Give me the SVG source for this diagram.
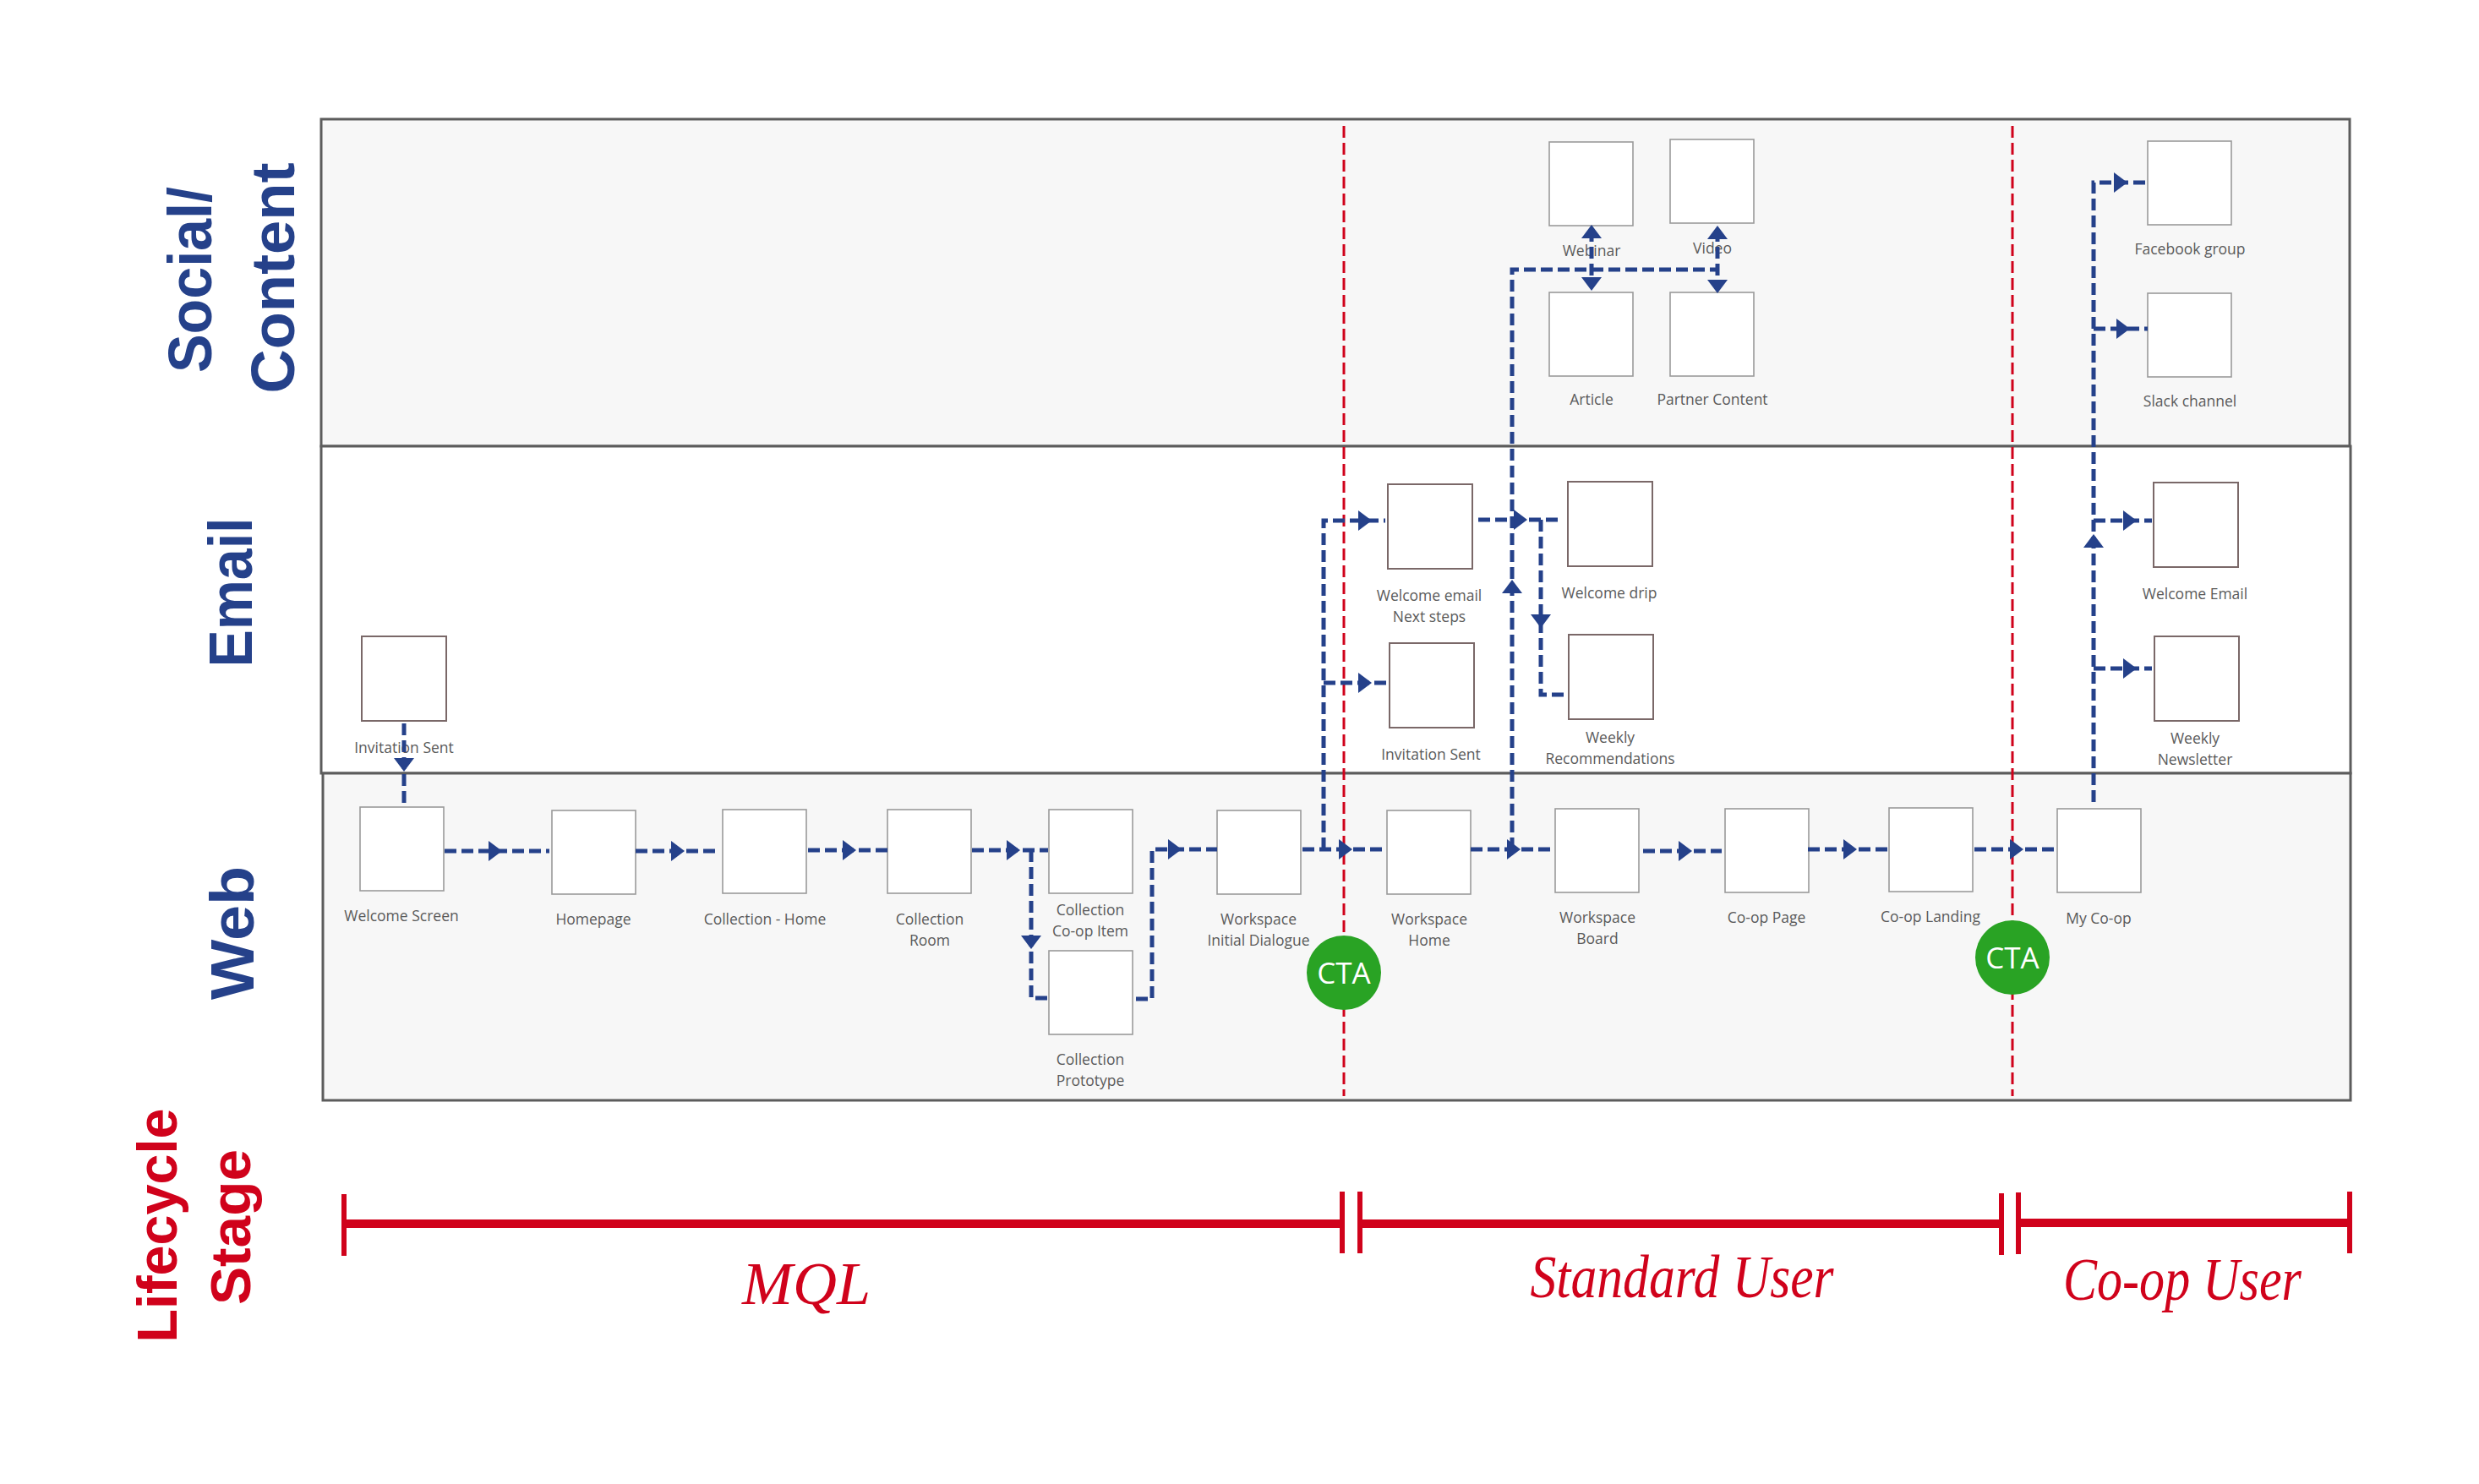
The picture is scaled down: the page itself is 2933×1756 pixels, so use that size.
<svg xmlns="http://www.w3.org/2000/svg" xmlns:xlink="http://www.w3.org/1999/xlink" width="2933" height="1756" viewBox="0 0 2933 1756">
<style>
.lane{stroke:#5c5c5c;stroke-width:3}
.lane-g{fill:#f7f7f7}
.lane-w{fill:#ffffff}
.box{fill:#ffffff;stroke:#9a9a9a;stroke-width:1.6}
.ebox{fill:#ffffff;stroke:#7a6868;stroke-width:2}
.lbl{font-family:"Open Sans","Liberation Sans",sans-serif;font-size:17.5px;fill:#5a5a5a;text-anchor:middle}
.lane-t{font-family:"Liberation Sans",Arial,sans-serif;font-weight:bold;font-size:72px;fill:#25418a;text-anchor:middle}
.life-t{font-family:"Liberation Sans",Arial,sans-serif;font-weight:bold;font-size:66px;fill:#d0021b;text-anchor:middle}
.stage{font-family:"Liberation Serif","Times New Roman",serif;font-style:italic;font-size:72px;fill:#d0021b;text-anchor:middle}
.red{stroke:#d0021b;stroke-width:3;stroke-dasharray:14 6;fill:none}
.conn{stroke:#25418a;stroke-width:5;stroke-dasharray:14 6;fill:none}
.bar{stroke:#d0021b;stroke-width:10;fill:none}
.tick{stroke:#d0021b;stroke-width:6;fill:none}
.cta{fill:#29a324}
.cta-t{font-family:"Open Sans","Liberation Sans",sans-serif;font-size:35px;fill:#ffffff;text-anchor:middle}
</style>
<defs>
<path id="ah" d="M0,0 L-16,-12 L-16,12 Z" fill="#25418a"/>
</defs>
<rect width="2933" height="1756" fill="#ffffff"/>

<g id="lanes">
<rect class="lane lane-g" x="380" y="141" width="2400" height="387"/>
<rect class="lane lane-w" x="380" y="528" width="2401" height="387"/>
<rect class="lane lane-g" x="382" y="915" width="2399" height="387"/>
</g>

<g id="lane-labels">
<text class="lane-t" transform="translate(250,331) rotate(-90)" textLength="220" lengthAdjust="spacingAndGlyphs">Social/</text>
<text class="lane-t" transform="translate(348,329) rotate(-90)" textLength="273" lengthAdjust="spacingAndGlyphs">Content</text>
<text class="lane-t" transform="translate(298,701) rotate(-90)" textLength="177" lengthAdjust="spacingAndGlyphs">Email</text>
<text class="lane-t" transform="translate(300,1104) rotate(-90)" textLength="158" lengthAdjust="spacingAndGlyphs">Web</text>
<text class="life-t" transform="translate(209,1450) rotate(-90)" textLength="277" lengthAdjust="spacingAndGlyphs">Lifecycle</text>
<text class="life-t" transform="translate(296,1452) rotate(-90)" textLength="184" lengthAdjust="spacingAndGlyphs">Stage</text>
</g>

<g id="stage-dividers">
<line class="red" x1="1590" y1="149" x2="1590" y2="1297"/>
<line class="red" x1="2381" y1="149" x2="2381" y2="1297"/>
</g>

<g id="n-webinar"><rect class="box" x="1833" y="168" width="99" height="99"/><text class="lbl" x="1883" y="303">Webinar</text></g>
<g id="n-video"><rect class="box" x="1976" y="165" width="99" height="99"/><text class="lbl" x="2026" y="300">Video</text></g>
<g id="n-article"><rect class="box" x="1833" y="346" width="99" height="99"/><text class="lbl" x="1883" y="479">Article</text></g>
<g id="n-partner"><rect class="box" x="1976" y="346" width="99" height="99"/><text class="lbl" x="2026" y="479">Partner Content</text></g>
<g id="n-facebook"><rect class="box" x="2541" y="167" width="99" height="99"/><text class="lbl" x="2591" y="301">Facebook group</text></g>
<g id="n-slack"><rect class="box" x="2541" y="347" width="99" height="99"/><text class="lbl" x="2591" y="481">Slack channel</text></g>

<g id="n-invite1"><rect class="ebox" x="428" y="753" width="100" height="100"/><text class="lbl" x="478" y="891">Invitation Sent</text></g>
<g id="n-welcome-email"><rect class="ebox" x="1642" y="573" width="100" height="100"/><text class="lbl" x="1691" y="711">Welcome email</text><text class="lbl" x="1691" y="736">Next steps</text></g>
<g id="n-invite2"><rect class="ebox" x="1644" y="761" width="100" height="100"/><text class="lbl" x="1693" y="899">Invitation Sent</text></g>
<g id="n-welcome-drip"><rect class="ebox" x="1855" y="570" width="100" height="100"/><text class="lbl" x="1904" y="708">Welcome drip</text></g>
<g id="n-weekly-rec"><rect class="ebox" x="1856" y="751" width="100" height="100"/><text class="lbl" x="1905" y="879">Weekly</text><text class="lbl" x="1905" y="904">Recommendations</text></g>
<g id="n-coop-welcome"><rect class="ebox" x="2548" y="571" width="100" height="100"/><text class="lbl" x="2597" y="709">Welcome Email</text></g>
<g id="n-weekly-news"><rect class="ebox" x="2549" y="753" width="100" height="100"/><text class="lbl" x="2597" y="880">Weekly</text><text class="lbl" x="2597" y="905">Newsletter</text></g>

<g id="n-welcome-screen"><rect class="box" x="426" y="955" width="99" height="99"/><text class="lbl" x="475" y="1090">Welcome Screen</text></g>
<g id="n-homepage"><rect class="box" x="653" y="959" width="99" height="99"/><text class="lbl" x="702" y="1094">Homepage</text></g>
<g id="n-coll-home"><rect class="box" x="855" y="958" width="99" height="99"/><text class="lbl" x="905" y="1094">Collection - Home</text></g>
<g id="n-coll-room"><rect class="box" x="1050" y="958" width="99" height="99"/><text class="lbl" x="1100" y="1094">Collection</text><text class="lbl" x="1100" y="1119">Room</text></g>
<g id="n-coop-item"><rect class="box" x="1241" y="958" width="99" height="99"/><text class="lbl" x="1290" y="1083">Collection</text><text class="lbl" x="1290" y="1108">Co-op Item</text></g>
<g id="n-prototype"><rect class="box" x="1241" y="1125" width="99" height="99"/><text class="lbl" x="1290" y="1260">Collection</text><text class="lbl" x="1290" y="1285">Prototype</text></g>
<g id="n-ws-initial"><rect class="box" x="1440" y="959" width="99" height="99"/><text class="lbl" x="1489" y="1094">Workspace</text><text class="lbl" x="1489" y="1119">Initial Dialogue</text></g>
<g id="n-ws-home"><rect class="box" x="1641" y="959" width="99" height="99"/><text class="lbl" x="1691" y="1094">Workspace</text><text class="lbl" x="1691" y="1119">Home</text></g>
<g id="n-ws-board"><rect class="box" x="1840" y="957" width="99" height="99"/><text class="lbl" x="1890" y="1092">Workspace</text><text class="lbl" x="1890" y="1117">Board</text></g>
<g id="n-coop-page"><rect class="box" x="2041" y="957" width="99" height="99"/><text class="lbl" x="2090" y="1092">Co-op Page</text></g>
<g id="n-coop-landing"><rect class="box" x="2235" y="956" width="99" height="99"/><text class="lbl" x="2284" y="1091">Co-op Landing</text></g>
<g id="n-my-coop"><rect class="box" x="2434" y="957" width="99" height="99"/><text class="lbl" x="2483" y="1093">My Co-op</text></g>

<g id="connectors">
<path class="conn" d="M478,856 V950"/>
<use xlink:href="#ah" transform="translate(478,913) rotate(90)"/>
<path class="conn" d="M526,1007 H650"/>
<use xlink:href="#ah" transform="translate(594,1007)"/>
<path class="conn" d="M752,1007 H847"/>
<use xlink:href="#ah" transform="translate(810,1007)"/>
<path class="conn" d="M956,1006 H1050"/>
<use xlink:href="#ah" transform="translate(1013,1006)"/>
<path class="conn" d="M1150,1006 H1240 M1220,1006 V1181 H1240"/>
<use xlink:href="#ah" transform="translate(1207,1006)"/>
<use xlink:href="#ah" transform="translate(1220,1123) rotate(90)"/>
<path class="conn" d="M1344,1182 H1363 V1005 H1440"/>
<use xlink:href="#ah" transform="translate(1398,1005)"/>
<path class="conn" d="M1541,1005 H1639 M1566,1005 V616 H1639 M1566,808 H1640"/>
<use xlink:href="#ah" transform="translate(1600,1005)"/>
<use xlink:href="#ah" transform="translate(1623,616)"/>
<use xlink:href="#ah" transform="translate(1623,808)"/>
<path class="conn" d="M1749,615 H1843 M1823,615 V822 H1855"/>
<use xlink:href="#ah" transform="translate(1807,615)"/>
<use xlink:href="#ah" transform="translate(1823,743) rotate(90)"/>
<path class="conn" d="M1740,1005 H1836 M1789,1005 V319 H2032 M1883,272 V340 M2032,272 V342"/>
<use xlink:href="#ah" transform="translate(1799,1005)"/>
<use xlink:href="#ah" transform="translate(1789,686) rotate(-90)"/>
<use xlink:href="#ah" transform="translate(1883,266) rotate(-90)"/>
<use xlink:href="#ah" transform="translate(1883,344) rotate(90)"/>
<use xlink:href="#ah" transform="translate(2032,267) rotate(-90)"/>
<use xlink:href="#ah" transform="translate(2032,347) rotate(90)"/>
<path class="conn" d="M1944,1007 H2037"/>
<use xlink:href="#ah" transform="translate(2002,1007)"/>
<path class="conn" d="M2139,1005 H2234"/>
<use xlink:href="#ah" transform="translate(2197,1005)"/>
<path class="conn" d="M2336,1005 H2430"/>
<use xlink:href="#ah" transform="translate(2394,1005)"/>
<path class="conn" d="M2477,949 V216 H2541 M2477,389 H2541 M2477,616 H2546 M2477,791 H2546"/>
<use xlink:href="#ah" transform="translate(2517,216)"/>
<use xlink:href="#ah" transform="translate(2520,389)"/>
<use xlink:href="#ah" transform="translate(2528,616)"/>
<use xlink:href="#ah" transform="translate(2528,791)"/>
<use xlink:href="#ah" transform="translate(2477,632) rotate(-90)"/>
</g>

<g id="cta-1"><circle class="cta" cx="1590" cy="1151" r="44"/><text class="cta-t" x="1590" y="1164">CTA</text></g>
<g id="cta-2"><circle class="cta" cx="2381" cy="1133" r="44"/><text class="cta-t" x="2381" y="1146">CTA</text></g>

<g id="lifecycle">
<path class="bar" d="M407,1448 H1588 M1609,1448 H2368 M2388,1447 H2780"/>
<path class="tick" d="M407,1413 V1486 M1588,1410 V1483 M1609,1410 V1483 M2368,1412 V1485 M2388,1411 V1484 M2780,1410 V1483"/>
<text class="stage" x="954" y="1543">MQL</text>
<text class="stage" x="1990" y="1535" textLength="359" lengthAdjust="spacingAndGlyphs">Standard User</text>
<text class="stage" x="2582" y="1538" textLength="282" lengthAdjust="spacingAndGlyphs">Co-op User</text>
</g>
</svg>
